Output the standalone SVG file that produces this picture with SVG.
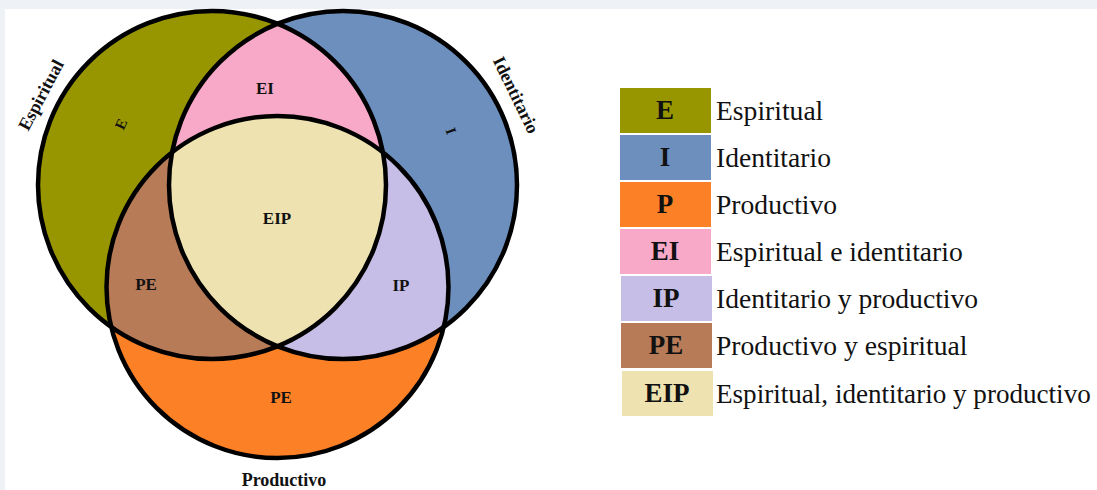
<svg xmlns="http://www.w3.org/2000/svg" width="1097" height="490" viewBox="0 0 1097 490">
<style>
.bg{fill:#eef2f6}
.panel{fill:#ffffff}
.ring{fill:none;stroke:#000;stroke-width:4.5}
.lbl{font-family:"Liberation Serif","Times New Roman",serif;font-weight:bold;fill:#111;text-anchor:middle}
.in{font-size:17px}
.sm{font-size:15px}
.out{font-size:18px}
.key{font-family:"Liberation Serif","Times New Roman",serif;font-weight:bold;font-size:27px;fill:#111;text-anchor:middle}
.desc{font-family:"Liberation Serif","Times New Roman",serif;font-size:27.6px;fill:#111}
.fit{font-size:27.1px}
</style>
<defs>
<clipPath id="clipE"><circle cx="212" cy="185" r="174"/></clipPath>
<clipPath id="clipI"><circle cx="343" cy="185" r="174"/></clipPath>
</defs>
<rect class="bg" x="0" y="0" width="1097" height="490"/>
<rect class="panel" x="5" y="9" width="1092" height="481"/>

<g id="venn">
  <g id="region-E"><circle cx="212" cy="185" r="174" fill="#989600"/></g>
  <g id="region-I"><circle cx="343" cy="185" r="174" fill="#6d8fbe"/></g>
  <g id="region-P"><circle cx="277.5" cy="287" r="171" fill="#fc8026"/></g>
  <g id="region-EI"><circle cx="343" cy="185" r="174" fill="#f9a9c8" clip-path="url(#clipE)"/></g>
  <g id="region-PE"><circle cx="277.5" cy="287" r="171" fill="#b87b58" clip-path="url(#clipE)"/></g>
  <g id="region-IP"><circle cx="277.5" cy="287" r="171" fill="#c6bee6" clip-path="url(#clipI)"/></g>
  <g id="region-EIP" clip-path="url(#clipE)"><circle cx="277.5" cy="287" r="171" fill="#eee3b0" clip-path="url(#clipI)"/></g>
  <g id="outlines">
    <circle class="ring" cx="212" cy="185" r="174"/>
    <circle class="ring" cx="343" cy="185" r="174"/>
    <circle class="ring" cx="277.5" cy="287" r="171"/>
  </g>
  <g id="venn-labels">
    <text class="lbl in" x="265" y="94">EI</text>
    <text class="lbl in" x="277" y="224">EIP</text>
    <text class="lbl in" x="146" y="290">PE</text>
    <text class="lbl in" x="401" y="291">IP</text>
    <text class="lbl in" x="281" y="403">PE</text>
    <text class="lbl sm" transform="translate(121,124) rotate(-65)" y="5">E</text>
    <text class="lbl sm" transform="translate(451,131) rotate(70)" y="5">I</text>
    <text class="lbl out" transform="translate(41,95) rotate(-62)" y="6">Espiritual</text>
    <text class="lbl out" transform="translate(516,95) rotate(64)" y="6">Identitario</text>
    <text class="lbl out" x="284" y="486">Productivo</text>
  </g>
</g>

<g id="connectors"></g>

<g id="legend">
  <g id="legend-E"><rect x="620" y="88" width="91" height="45" fill="#989600"/><text class="key" x="665" y="119">E</text><text class="desc" x="716" y="120">Espiritual</text></g>
  <g id="legend-I"><rect x="620" y="135" width="91" height="45" fill="#6d8fbe"/><text class="key" x="665" y="166">I</text><text class="desc" x="716" y="167">Identitario</text></g>
  <g id="legend-P"><rect x="620" y="182" width="91" height="45" fill="#fc8026"/><text class="key" x="665" y="213">P</text><text class="desc" x="716" y="214">Productivo</text></g>
  <g id="legend-EI"><rect x="620" y="229" width="91" height="45" fill="#f9a9c8"/><text class="key" x="665" y="260">EI</text><text class="desc" x="716" y="261">Espiritual e identitario</text></g>
  <g id="legend-IP"><rect x="621" y="276" width="91" height="45" fill="#c6bee6"/><text class="key" x="666" y="307">IP</text><text class="desc" x="716" y="308">Identitario y productivo</text></g>
  <g id="legend-PE"><rect x="621" y="323" width="91" height="45" fill="#b87b58"/><text class="key" x="666" y="354">PE</text><text class="desc" x="716" y="355">Productivo y espiritual</text></g>
  <g id="legend-EIP"><rect x="622" y="371" width="91" height="45" fill="#eee3b0"/><text class="key" x="667" y="402">EIP</text><text class="desc fit" x="716" y="403">Espiritual, identitario y productivo</text></g>
</g>
</svg>
